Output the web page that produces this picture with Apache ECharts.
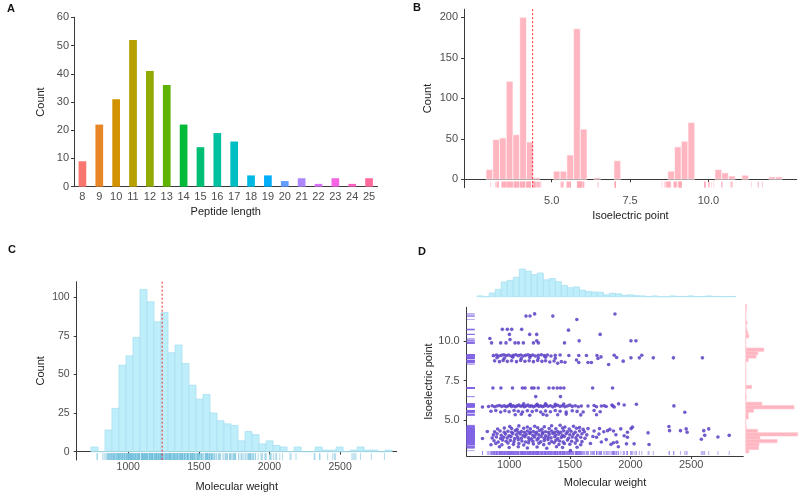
<!DOCTYPE html>
<html>
<head>
<meta charset="utf-8">
<script src="https://cdn.jsdelivr.net/npm/echarts@6/dist/echarts.min.js"></script>
<style>html,body{margin:0;padding:0;background:#fff}#c{width:800px;height:494px}</style>
</head>
<body>
<div id="c"></div>
<script>
// ---- Panel A: peptide length distribution ----
const lengthCats = ['8','9','10','11','12','13','14','15','16','17','18','19','20','21','22','23','24','25'];
const lengthCounts = [9,22,31,52,41,36,22,14,19,16,4,4,2,3,1,3,1,3];
const lengthColors = ['#F8766D','#E88526','#D39200','#B79F00','#93AA00','#5EB300','#00BA38','#00BF74','#00C19F','#00BFC4','#00B9E3','#00ADFA','#619CFF','#AE87FF','#DB72FB','#F564E3','#FF61C3','#FF699C'];

// ---- Panel B: isoelectric point histogram ----
const pIBinStart = 2.904;
const pIBinWidth = 0.2149;
const pICounts = [12,49,51,121,55,200,46,2,0,0,10,10,30,186,62,0,2,0,0,23,0,0,0,0,0,0,0,10,40,47,70,0,0,0,12,8,4,0,5,0,0,0,3,3];
const pIMedian = 4.39;
const pITicks = [5, 7.5, 10];
const pICountTicks = [0, 50, 100, 150, 200];

// ---- Panel C: molecular weight histogram ----
const mwBinStart = 736;
const mwBinWidth = 49.6;
const mwCounts = [3,0,14,28,56,62,74,105,97,84,90,64,69,57,43,34,37,25,20,18,17,7,13,11,5,7,4,3,0,3,0,0,3,1,1,3,0,1,3,1,1,0,1];
const mwMedian = 1240;
const mwTicks = [1000, 1500, 2000, 2500];
const mwCountTicks = [0, 25, 50, 75, 100];

// ---- Panel D: peptides [molecular weight, isoelectric point] ----
const peptides = [
[1139,11.59],[1172,11.6],[1210,11.73],[1360,11.59],[1558,11.38],[1872,11.72],
[944,10.75],[985,10.75],[1021,10.75],[1103,10.75],[1002,10.43],[1169,10.43],[1227,10.43],[1489,10.7],[1750,10.43],
[841,10.17],[855,9.89],[930,9.89],[974,9.89],[1007,10.1],[1048,9.89],[1076,9.89],[1117,9.89],[1200,9.89],[1227,10.02],[1241,9.89],[1456,9.89],[1577,10.02],[2004,10.02],[2045,10.02],
[870,9.08],[895,9.12],[915,9.06],[935,9.1],[955,9.14],[975,9.08],[995,9.12],[1015,9.06],[1035,9.1],[1055,9.14],[1075,9.08],[1095,9.12],[1115,9.06],[1135,9.1],[1155,9.14],[1175,9.08],[1195,9.12],[1215,9.06],[1240,9.1],[1265,9.14],[1290,9.08],[1315,9.12],[1345,9.06],[1380,9.1],[1420,9.12],
[900,8.95],[960,8.92],[1030,8.98],[1100,8.9],[1170,8.96],[1240,8.93],[1300,8.98],[1380,8.92],
[880,8.75],[920,8.7],[950,8.78],[985,8.72],[1020,8.76],[1060,8.7],[1095,8.78],[1130,8.72],[1165,8.76],[1200,8.7],[1235,8.78],[1270,8.72],[1300,8.76],[1335,8.68],[1370,8.74],[1400,8.6],[1430,8.7],[1460,8.66],
[1492,9.09],[1574,9.09],[1555,8.8],[1637,9.09],[1678,8.65],[1724,9.09],[1732,8.9],[1757,9.0],[1866,9.11],[1886,8.96],[1940,8.73],[2004,8.94],[2073,8.94],[2093,9.11],[2188,8.94],[2354,8.94],[2593,8.94],[1820,8.52],[1650,8.65],[1574,8.65],
[866,7.03],[932,7.03],[1027,7.03],[1109,7.03],[1131,7.03],[1186,7.03],[1205,7.03],[1240,7.03],[1328,7.03],[1363,7.03],[1396,7.03],[1423,7.03],[1451,7.03],[1688,7.03],[1852,7.03],
[1219,6.48],[1423,6.48],
[780,5.82],[830,5.85],[860,5.9],[880,5.84],[900,5.88],[920,5.92],[940,5.86],[960,5.9],[975,5.84],[990,5.88],[1005,5.93],[1020,5.86],[1035,5.9],[1050,5.84],[1065,5.89],[1080,5.94],[1095,5.87],[1110,5.9],[1125,5.84],[1140,5.88],[1155,5.95],[1170,5.86],[1185,5.9],[1200,5.83],[1215,5.88],[1230,5.93],[1245,5.86],[1260,5.9],[1275,5.84],[1290,5.89],[1305,5.95],[1320,5.87],[1340,5.9],[1360,5.83],[1380,5.88],[1400,5.93],[1420,5.86],[1440,5.9],[1460,5.84],[1480,5.88],[1500,5.94],[1520,5.86],[1545,5.9],[1570,5.84],[1595,5.88],
[1010,6.0],[1120,6.02],[1230,6.0],[1300,6.03],[1380,6.0],[1450,6.01],
[1650,5.88],[1700,5.92],[1720,5.84],[1760,5.88],[1784,5.9],[1800,5.85],[1847,5.95],[1855,5.88],[1866,5.82],[1902,6.02],[1948,5.95],[2049,6.0],[2358,5.89],[2448,5.49],
[850,5.55],[890,5.6],[930,5.5],[965,5.58],[1000,5.52],[1040,5.6],[1075,5.55],[1110,5.5],[1150,5.58],[1190,5.53],[1225,5.6],[1260,5.5],[1300,5.57],[1340,5.52],[1380,5.6],[1420,5.55],[1470,5.5],[1520,5.58],[1560,5.54],[1610,5.5],[1700,5.6],[1750,5.52],
[1050,5.33],[1100,5.36],[1170,5.3],[1280,5.35],[1310,5.3],[1400,5.33],[1470,5.37],[1590,5.32],[1720,5.33],
[1005,4.58],[1080,4.62],[1150,4.55],[1210,4.6],[1290,4.57],[1350,4.63],[1420,4.66],[1460,4.55],[1530,4.6],[1580,4.52],
[905,4.42],[960,4.48],[1020,4.45],[1065,4.4],[1120,4.47],[1175,4.43],[1235,4.5],[1270,4.41],[1330,4.46],[1385,4.44],[1440,4.49],[1495,4.42],[1555,4.47],[1610,4.4],
[880,4.25],[925,4.3],[960,4.22],[990,4.28],[1020,4.22],[1050,4.32],[1075,4.22],[1100,4.26],[1125,4.22],[1150,4.3],[1175,4.22],[1200,4.27],[1225,4.22],[1250,4.33],[1275,4.22],[1300,4.25],[1325,4.22],[1350,4.3],[1375,4.22],[1400,4.26],[1425,4.22],[1450,4.31],[1480,4.24],[1510,4.28],[1545,4.22],[1580,4.3],[1620,4.25],
[870,4.05],[900,4.12],[935,4.02],[970,4.1],[1000,4.0],[1030,4.13],[1060,4.06],[1090,4.11],[1115,4.01],[1140,4.08],[1170,4.14],[1195,4.03],[1220,4.1],[1245,4.05],[1275,4.12],[1300,4.0],[1330,4.08],[1360,4.14],[1385,4.04],[1410,4.1],[1440,4.02],[1470,4.12],[1500,4.06],[1530,4.1],[1565,4.03],[1600,4.12],[1640,4.05],
[860,3.85],[895,3.92],[930,3.82],[955,3.9],[985,3.86],[1015,3.94],[1045,3.81],[1070,3.9],[1100,3.84],[1130,3.93],[1160,3.87],[1185,3.8],[1210,3.91],[1240,3.84],[1265,3.95],[1290,3.83],[1320,3.9],[1345,3.86],[1375,3.93],[1400,3.81],[1430,3.89],[1455,3.95],[1490,3.84],[1520,3.92],[1550,3.86],[1590,3.9],[1625,3.83],
[875,3.68],[910,3.6],[945,3.72],[975,3.65],[1010,3.7],[1040,3.62],[1075,3.74],[1105,3.66],[1135,3.6],[1165,3.71],[1195,3.64],[1230,3.73],[1260,3.61],[1290,3.69],[1320,3.75],[1350,3.63],[1385,3.7],[1415,3.66],[1445,3.6],[1480,3.72],[1515,3.65],[1560,3.7],[1600,3.62],
[890,3.5],[940,3.42],[990,3.53],[1035,3.45],[1080,3.5],[1120,3.41],[1160,3.55],[1200,3.47],[1245,3.52],[1285,3.43],[1330,3.5],[1370,3.55],[1410,3.44],[1455,3.5],[1500,3.46],[1545,3.53],[1590,3.42],
[920,3.3],[1000,3.25],[1075,3.3],[1150,3.22],[1230,3.28],[1310,3.2],[1390,3.3],[1440,3.25],[1505,3.05],[1560,3.27],
[780,3.82],[820,4.27],[850,3.42],
[1650,4.45],[1670,3.5],[1690,3.95],[1700,4.3],[1720,3.9],[1740,4.1],[1745,4.45],[1760,3.6],[1780,4.25],[1800,3.75],[1811,4.32],[1830,4.4],[1840,3.45],[1860,4.3],[1860,3.55],[1880,4.06],[1888,3.59],[1900,3.3],[1920,4.43],[1948,4.0],[1967,3.48],[1975,4.22],[1975,3.9],
[2005,4.45],[2016,4.54],[2030,3.48],[2145,4.18],[2153,3.44],[2317,4.58],[2322,4.32],[2412,4.32],[2459,4.43],[2467,4.22],[2584,3.77],[2604,4.32],[2612,4.02],[2645,4.43],[2721,3.92],[2814,4.02]
];

// ---- derived tables for the library ----
const pIBins = pICounts.map((c,i)=>[pIBinStart+i*pIBinWidth, pIBinStart+(i+1)*pIBinWidth, c]);
const mwBins = mwCounts.map((c,i)=>[mwBinStart+i*mwBinWidth, mwBinStart+(i+1)*mwBinWidth, c]);
const pIValues = peptides.map(p=>[p[1],0]);
const mwValues = peptides.map(p=>[p[0],0]);

const FONT = 'Liberation Sans, Arial, sans-serif';
const AX = '#3a3a3a';
const LBL = '#4D4D4D';
const plain = v => String(v);

function vHist(fill, stroke, lw){
  return function(params, api){
    const a = api.coord([api.value(0), api.value(2)]);
    const b = api.coord([api.value(1), 0]);
    return {type:'rect', shape:{x:a[0], y:a[1], width:b[0]-a[0], height:b[1]-a[1]}, style:{fill:fill, stroke:stroke, lineWidth:lw}};
  };
}
function hHist(fill, stroke, lw){
  return function(params, api){
    const a = api.coord([api.value(2), api.value(1)]);
    const b = api.coord([0, api.value(0)]);
    return {type:'rect', shape:{x:b[0], y:a[1], width:a[0]-b[0], height:b[1]-a[1]}, style:{fill:fill, stroke:stroke, lineWidth:lw}};
  };
}
function vRug(y1, y2, color){
  return function(params, api){
    const p = api.coord([api.value(0), y1]);
    const q = api.coord([api.value(0), y2]);
    return {type:'line', shape:{x1:p[0], y1:p[1], x2:q[0], y2:q[1]}, style:{stroke:color, lineWidth:1}};
  };
}
function vLine(yTop, yBot){
  return function(params, api){
    const p = api.coord([api.value(0), yTop]);
    const q = api.coord([api.value(0), yBot]);
    return {type:'line', shape:{x1:p[0], y1:p[1], x2:q[0], y2:q[1]}, style:{stroke:'#FF2A2A', lineWidth:1, lineDash:[2,2]}};
  };
}

function valAxis(o){
  return Object.assign({
    type:'value', splitLine:{show:false},
    axisLine:{show:true, lineStyle:{color:AX, width:1}},
    axisTick:{show:true, length:3, lineStyle:{color:AX}},
    axisLabel:{color:LBL, fontSize:11, fontFamily:FONT},
    nameLocation:'middle', nameTextStyle:{color:'#222', fontSize:11, fontFamily:FONT}
  }, o);
}

const X = { B:[2.2,12.82], C:[635,2901], D:[650,2930] };
const Y = { B:[-10.4,210], C:[-5.4,110], D:[2.71,12.15] };

const chart = echarts.init(document.getElementById('c'));
chart.setOption({
  animation:false,
  textStyle:{fontFamily:FONT},
  grid:[
    {left:74, top:17.3, width:303.5, height:169.4},
    {left:464, top:9.2, width:332.7, height:178.5},
    {left:76.7, top:281.7, width:320, height:178.3},
    {left:466.7, top:307.3, width:276.6, height:148.7},
    {left:466.7, top:268, width:276.6, height:28.7},
    {left:745.7, top:307.3, width:52, height:148.7}
  ],
  xAxis:[
    {type:'category', gridIndex:0, data:lengthCats,
      axisLine:{lineStyle:{color:AX}}, axisTick:{alignWithLabel:true, length:3, lineStyle:{color:AX}},
      axisLabel:{color:LBL, fontSize:11, margin:5, interval:0, fontFamily:FONT},
      name:'Peptide length', nameLocation:'middle', nameGap:20, nameTextStyle:{color:'#222', fontSize:11, fontFamily:FONT}},
    valAxis({gridIndex:1, min:X.B[0], max:X.B[1],
      axisTick:{show:true, length:3, lineStyle:{color:AX}, customValues:pITicks},
      axisLabel:{color:LBL, fontSize:11, margin:8, customValues:pITicks, formatter:v=>v.toFixed(1), fontFamily:FONT},
      name:'Isoelectric point', nameGap:23}),
    valAxis({gridIndex:2, min:X.C[0], max:X.C[1],
      axisTick:{show:true, length:3, lineStyle:{color:AX}, customValues:mwTicks},
      axisLabel:{color:LBL, fontSize:10.5, margin:2, customValues:mwTicks, formatter:plain, fontFamily:FONT},
      name:'Molecular weight', nameGap:21}),
    valAxis({gridIndex:3, min:X.D[0], max:X.D[1],
      axisTick:{show:true, length:3, lineStyle:{color:AX}, customValues:mwTicks},
      axisLabel:{color:LBL, fontSize:11, margin:3, customValues:mwTicks, formatter:plain, fontFamily:FONT},
      name:'Molecular weight', nameGap:21}),
    {type:'value', gridIndex:4, min:X.D[0], max:X.D[1], show:false},
    {type:'value', gridIndex:5, min:0, max:200, show:false}
  ],
  yAxis:[
    valAxis({gridIndex:0, min:0, max:60, interval:10,
      axisLabel:{color:LBL, fontSize:11, margin:5, fontFamily:FONT},
      name:'Count', nameGap:28}),
    valAxis({gridIndex:1, min:Y.B[0], max:Y.B[1],
      axisTick:{show:true, length:3, lineStyle:{color:AX}, customValues:pICountTicks},
      axisLabel:{color:LBL, fontSize:11, margin:6, customValues:pICountTicks, fontFamily:FONT},
      name:'Count', nameGap:31}),
    valAxis({gridIndex:2, min:Y.C[0], max:Y.C[1],
      axisTick:{show:true, length:3, lineStyle:{color:AX}, customValues:mwCountTicks},
      axisLabel:{color:LBL, fontSize:10.5, margin:7, customValues:mwCountTicks, fontFamily:FONT},
      name:'Count', nameGap:30}),
    valAxis({gridIndex:3, min:Y.D[0], max:Y.D[1],
      axisTick:{show:true, length:3, lineStyle:{color:AX}, customValues:pITicks},
      axisLabel:{color:LBL, fontSize:11, margin:7, customValues:pITicks, formatter:v=>v.toFixed(1), fontFamily:FONT},
      name:'Isoelectric point', nameGap:29}),
    {type:'value', gridIndex:4, min:0, max:109, show:false},
    {type:'value', gridIndex:5, min:Y.D[0], max:Y.D[1], show:false}
  ],
  graphic:[
    {type:'text', left:7, top:3, style:{text:'A', font:'bold 11px '+FONT, fill:'#111'}},
    {type:'text', left:413, top:2, style:{text:'B', font:'bold 11px '+FONT, fill:'#111'}},
    {type:'text', left:8, top:244, style:{text:'C', font:'bold 11px '+FONT, fill:'#111'}},
    {type:'text', left:418, top:246, style:{text:'D', font:'bold 11px '+FONT, fill:'#111'}}
  ],
  series:[
    {type:'bar', xAxisIndex:0, yAxisIndex:0, barWidth:7.7,
      data:lengthCounts.map((v,i)=>({value:v, itemStyle:{color:lengthColors[i]}}))},
    // B
    {type:'custom', xAxisIndex:1, yAxisIndex:1, data:pIBins.filter(b=>b[2]>0), encode:{x:[0,1], y:2},
      renderItem:vHist('#FFB6C1', '#FFFFFF', 0.6)},
    {type:'custom', xAxisIndex:1, yAxisIndex:1, data:pIValues, encode:{x:0, y:1},
      renderItem:vRug(-3, -10, 'rgba(255,170,185,0.45)')},
    {type:'custom', xAxisIndex:1, yAxisIndex:1, data:[[pIMedian,0]], encode:{x:0, y:1},
      renderItem:vLine(Y.B[1], Y.B[0])},
    // C
    {type:'custom', xAxisIndex:2, yAxisIndex:2, data:mwBins, encode:{x:[0,1], y:2},
      renderItem:vHist('#BFEEFB', '#A9E0F0', 0.8)},
    {type:'custom', xAxisIndex:2, yAxisIndex:2, data:mwValues, encode:{x:0, y:1},
      renderItem:vRug(-1, -5.4, 'rgba(110,190,220,0.55)')},
    {type:'custom', xAxisIndex:2, yAxisIndex:2, data:[[mwMedian,0]], encode:{x:0, y:1},
      renderItem:vLine(Y.C[1], Y.C[0])},
    // D main
    {type:'custom', xAxisIndex:3, yAxisIndex:3, data:peptides, encode:{x:0, y:1},
      renderItem:function(params, api){
        const p = api.coord([X.D[0], api.value(1)]);
        return {type:'line', shape:{x1:p[0], y1:p[1], x2:p[0]+8, y2:p[1]}, style:{stroke:'rgba(130,100,230,0.55)', lineWidth:1}};
      }},
    {type:'custom', xAxisIndex:3, yAxisIndex:3, data:peptides, encode:{x:0, y:1},
      renderItem:function(params, api){
        const p = api.coord([api.value(0), Y.D[0]]);
        return {type:'line', shape:{x1:p[0], y1:p[1]-1, x2:p[0], y2:p[1]-5}, style:{stroke:'rgba(130,100,230,0.55)', lineWidth:1}};
      }},
    {type:'scatter', xAxisIndex:3, yAxisIndex:3, data:peptides, symbolSize:3.6,
      itemStyle:{color:'#5B3EC6', opacity:0.85}},
    // D marginals
    {type:'custom', xAxisIndex:4, yAxisIndex:4, data:mwBins, encode:{x:[0,1], y:2},
      renderItem:vHist('#BFEEFB', '#A9E0F0', 0.8)},
    {type:'custom', xAxisIndex:5, yAxisIndex:5, data:pIBins, encode:{x:2, y:[0,1]},
      renderItem:hHist('#FFB6C1', '#FFC4CE', 0.6)}
  ]
});
</script>
</body>
</html>
